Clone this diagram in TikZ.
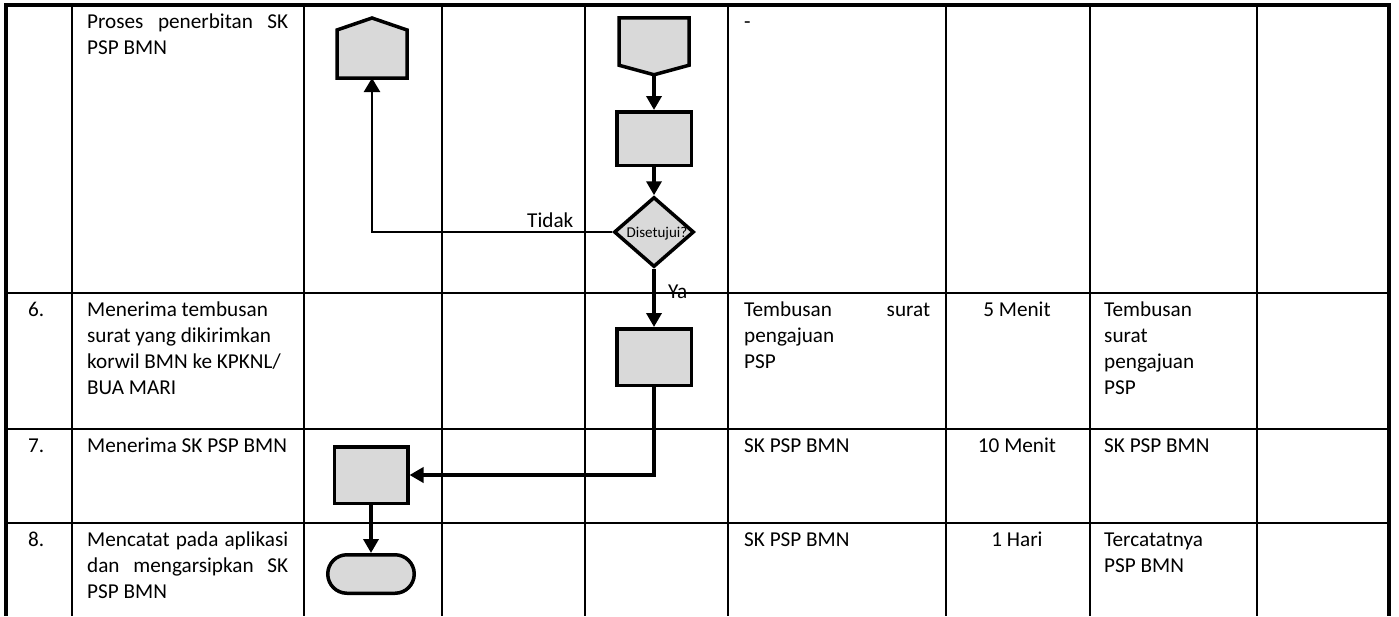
\documentclass[tikz,border=0pt]{standalone}
\usepackage{fontspec}
\setmainfont{Carlito}
\usepackage{tikz}
\usetikzlibrary{arrows.meta,shapes.geometric,shapes.misc}
\definecolor{boxgray}{HTML}{D9D9D9}

\tikzset{
  tabline/.style={line width=2.5pt},
  tabframe/.style={line width=4.8pt},
  cell/.style={anchor=base west, inner sep=0pt, text width=#1, align=justify},
  flowbox/.style={draw, line width=3.5pt, fill=boxgray, inner sep=0pt},
  conbody/.style={inner sep=0pt, outer sep=1.75pt, minimum width=66.5pt, minimum height=44.5pt},
  flow/.style={line width=3.5pt, -{Triangle[length=14pt,width=15pt]}},
  flowthin/.style={line width=2.5pt, -{Triangle[length=14pt,width=16pt]}}
}

\begin{document}
\begin{tikzpicture}[x=1pt, y=-1pt, every node/.style={font=\fontsize{21.2}{26}\selectfont}]
    \useasboundingbox (0,0) rectangle (1399,616);

    \foreach \x in {72,304,442,585,728,946,1090,1257}
        \draw[tabline] (\x,5) -- (\x,616);
    \foreach \y in {293,429,523}
        \draw[tabline] (6,\y) -- (1389,\y);
    \draw[line width=3.4pt] (6,5) -- (1389,5);
    \draw[tabframe] (6,3.3) -- (6,616);
    \draw[tabframe] (1389,3.3) -- (1389,616);

    \node[anchor=base west, inner sep=0pt] (n6) at (28,316) {6.};
    \node[anchor=base west, inner sep=0pt] (n7) at (28,452) {7.};
    \node[anchor=base west, inner sep=0pt] (n8) at (28,546.5) {8.};

    \node[cell=201pt] (t5) at (87,28.5) {Proses penerbitan SK\linebreak PSP BMN};
    \node[cell=201pt] (t6) at (87,316) {Menerima tembusan\\surat yang dikirimkan\\korwil BMN ke KPKNL/\\BUA MARI};
    \node[cell=201pt] (t7) at (87,452) {Menerima SK PSP BMN};
    \node[cell=201pt] (t8) at (87,546.5) {Mencatat pada aplikasi\linebreak dan mengarsipkan SK\linebreak PSP BMN};

    \node[cell=186pt] (d5) at (744,28.5) {-};
    \node[cell=186pt] (d6) at (744,316) {Tembusan\hfill surat\\pengajuan\\PSP};
    \node[cell=186pt] (d7) at (744,452) {SK PSP BMN};
    \node[cell=186pt] (d8) at (744,546.5) {SK PSP BMN};

    \node[anchor=base, inner sep=0pt] (w6) at (1017,316) {5 Menit};
    \node[anchor=base, inner sep=0pt] (w7) at (1017,452) {10 Menit};
    \node[anchor=base, inner sep=0pt] (w8) at (1017,546.5) {1 Hari};

    \node[cell=150pt] (h6) at (1104,316) {Tembusan\\surat\\pengajuan\\PSP};
    \node[cell=150pt] (h7) at (1104,452) {SK PSP BMN};
    \node[cell=150pt] (h8) at (1104,546.5) {Tercatatnya\\PSP BMN};

    \node[conbody] (conA) at (372,54) {};
    \draw[flowbox] (conA.south west) -- (conA.north west) -- ([yshift=12pt]conA.north)
        -- (conA.north east) -- (conA.south east) -- cycle;
    \node[conbody, minimum height=44pt] (conB) at (654,41.5) {};
    \draw[flowbox] (conB.north west) -- (conB.south west) -- ([yshift=-9.5pt]conB.south)
        -- (conB.south east) -- (conB.north east) -- cycle;
    \coordinate (conBtip) at ([yshift=-9.5pt]conB.south);

    \node[flowbox, minimum width=74.5pt, minimum height=53.5pt] (rev) at (654,138.5) {};
    \node[flowbox, diamond, minimum width=80pt, minimum height=70pt] (dec) at (654,232) {};
    \node[inner sep=0pt, anchor=base, font=\fontsize{15}{18}\selectfont] (dectxt) at (657,237) {Disetujui?};
    \node[flowbox, minimum width=74.5pt, minimum height=56.5pt] (kirim) at (654,357) {};
    \node[flowbox, minimum width=73.5pt, minimum height=56.5pt] (terima) at (371,475) {};
    \node[flowbox, rounded rectangle, minimum width=86.5pt, minimum height=38.5pt] (arsip) at (371,574) {};

    \draw[flow] (conBtip) -- (rev.north);
    \draw[flow] (rev.south) -- (dec.north);
    \draw[flowthin] (dec.west) -| (conA.south);
    \draw[flow] (dec.south) -- (kirim.north);
    \draw[flow] (kirim.south) |- (terima.east);
    \draw[flow] (terima.south) -- (arsip.north);

    \node[anchor=base west, inner sep=0pt] (lbltidak) at (527,227) {Tidak};
    \node[anchor=base west, inner sep=0pt] (lblya) at (668,298) {Ya};
\end{tikzpicture}
\end{document}
